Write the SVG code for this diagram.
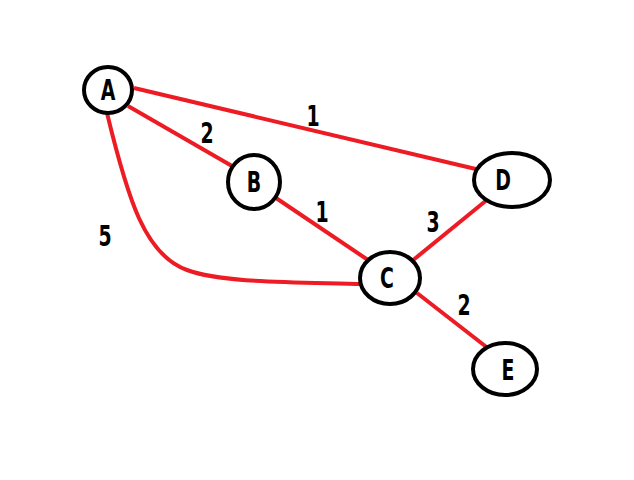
<svg xmlns="http://www.w3.org/2000/svg" width="634" height="480" viewBox="0 0 634 480">
<style>
.edge{fill:none;stroke:#ed1c24;stroke-width:4;stroke-linecap:butt}
.node ellipse{fill:#fff;stroke:#000;stroke-width:4}
text{font-family:"DejaVu Sans Condensed","DejaVu Sans",sans-serif;font-weight:bold;font-stretch:condensed;font-size:28px;fill:#000;text-anchor:middle}
</style>
<rect width="634" height="480" fill="#fff"/>
<g id="edges">
<line class="edge" x1="134" y1="88" x2="480" y2="170"/>
<line class="edge" x1="128" y1="106" x2="232" y2="166"/>
<line class="edge" x1="276" y1="198" x2="371" y2="262"/>
<line class="edge" x1="488" y1="199" x2="412" y2="261"/>
<line class="edge" x1="417" y1="293" x2="489" y2="349"/>
<path class="edge" d="M107,113 C128,200 145,255 187,270 C222,283 290,282 363,284"/>
</g>
<g id="edge-labels">
<text transform="translate(313,126) scale(0.75,1)">1</text>
<text transform="translate(207,143) scale(0.75,1)">2</text>
<text transform="translate(322,222) scale(0.75,1)">1</text>
<text transform="translate(433,232) scale(0.75,1)">3</text>
<text transform="translate(464,315) scale(0.75,1)">2</text>
<text transform="translate(105,246) scale(0.75,1)">5</text>
</g>
<g id="A" class="node"><ellipse cx="108" cy="90" rx="24" ry="23"/><text transform="translate(108,100) scale(0.75,1)">A</text></g>
<g id="B" class="node"><ellipse cx="254" cy="182" rx="26" ry="27"/><text transform="translate(254,192) scale(0.75,1)">B</text></g>
<g id="D" class="node"><ellipse cx="512" cy="180" rx="38" ry="27"/><text transform="translate(503,190) scale(0.75,1)">D</text></g>
<g id="C" class="node"><ellipse cx="390" cy="278" rx="30" ry="26"/><text transform="translate(387,288) scale(0.75,1)">C</text></g>
<g id="E" class="node"><ellipse cx="505" cy="369" rx="32" ry="26"/><text transform="translate(508,380) scale(0.75,1)">E</text></g>
</svg>
